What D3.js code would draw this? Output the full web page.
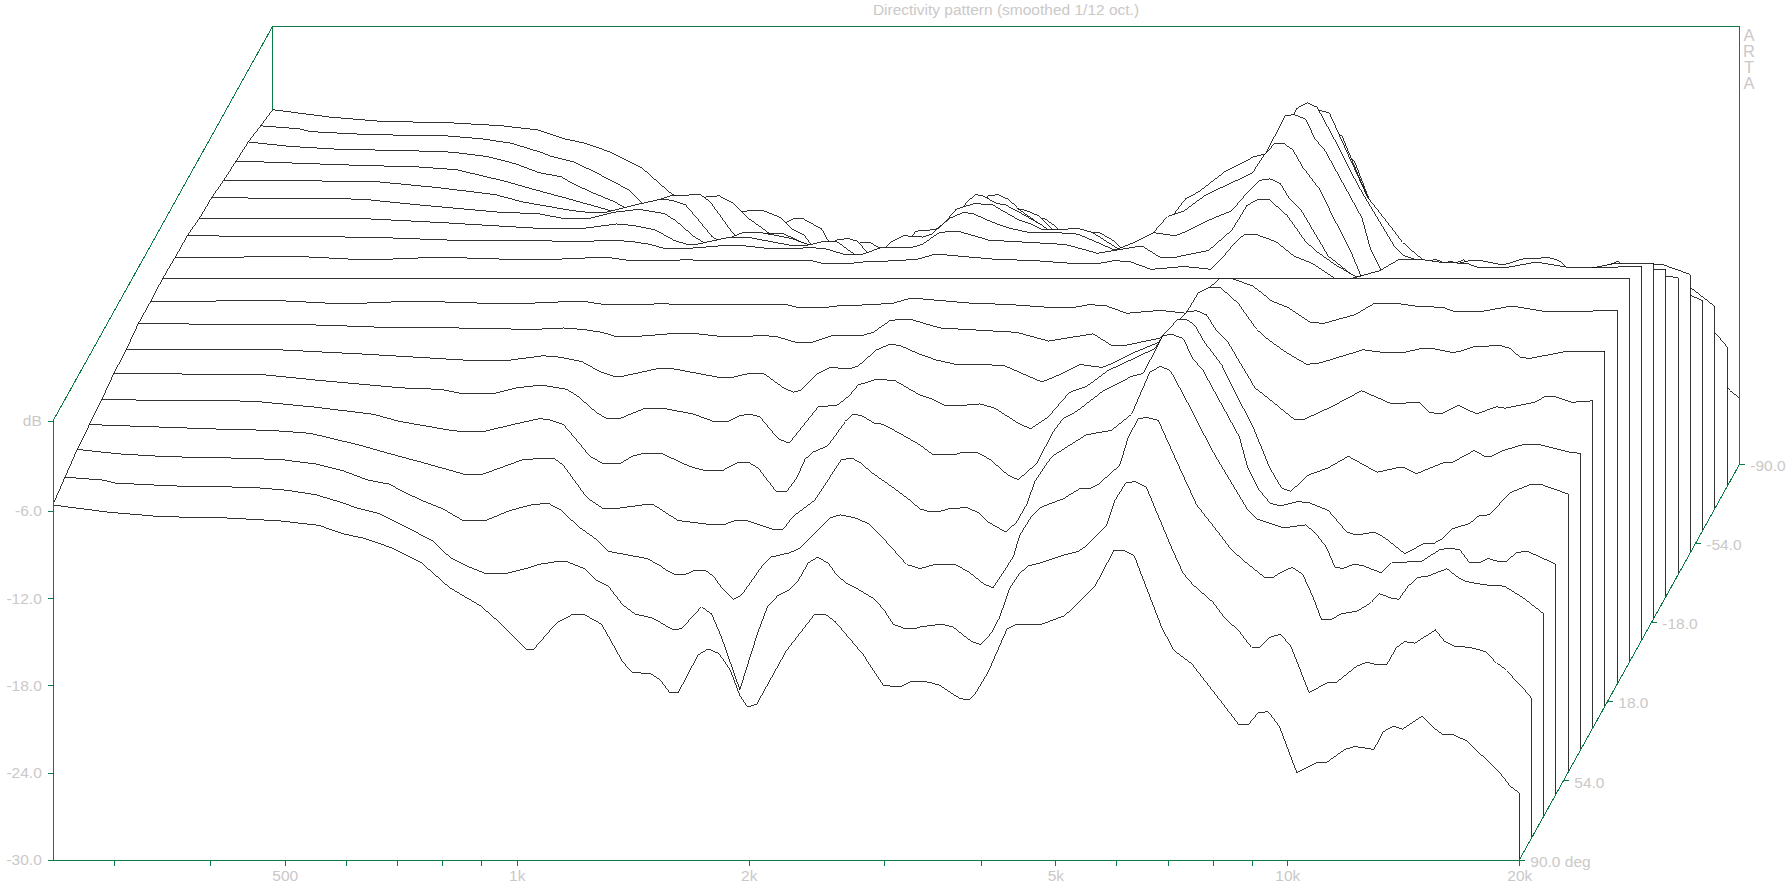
<!DOCTYPE html>
<html><head><meta charset="utf-8"><title>Directivity pattern</title>
<style>html,body{margin:0;padding:0;background:#fff}svg{display:block}
text{font-family:"Liberation Sans",Arial,sans-serif;fill:#cbc8c8;font-size:15.5px}
.axis path,.axis line,.gl{stroke:#0b7a45;stroke-width:1;fill:none;shape-rendering:crispEdges}
.curve{fill:none;stroke:#000;stroke-width:.8;shape-rendering:crispEdges;stroke-linejoin:miter}
.fill{fill:#fff;stroke:none}
</style>
<script src="https://cdn.jsdelivr.net/npm/d3@7"></script></head><body>
<svg id="c" width="1792" height="889"></svg>
<script>
const title="Directivity pattern (smoothed 1/12 oct.)";
const brand=["A","R","T","A"];
const fMin=250,fMax=20000;
const freqTicks=[300,400,500,600,700,800,900,1000,2000,3000,4000,5000,6000,7000,8000,9000,10000,20000];
const freqLabels={500:"500",1000:"1k",2000:"2k",5000:"5k",10000:"10k",20000:"20k"};
const dbTicks=[-6,-12,-18,-24,-30];
const angleTicks=[90,54,18,-18,-54,-90];
const angles=[90,80,70,60,50,40,30,20,10,0,-10,-20,-30,-40,-50,-60,-70,-80,-90];
// Each response: [octaves above 250 Hz, level in dB]. The pattern is symmetric: +a and -a share a curve.
const resp90=[[0,-5.6],[.242,-6.1],[.465,-6.4],[.762,-6.5],[.984,-6.7],[1.146,-7],[1.257,-7.6],[1.344,-7.9],[1.453,-8.5],[1.591,-9.6],[1.712,-11.3],[1.841,-12.5],[1.928,-13.7],[2.04,-15.5],[2.074,-15.5],[2.172,-13.7],[2.243,-13.1],[2.287,-13.1],[2.366,-13.8],[2.457,-16.4],[2.499,-17.1],[2.577,-17.2],[2.617,-17.6],[2.66,-18.5],[2.696,-18.5],[2.782,-15.9],[2.825,-15.5],[2.871,-15.8],[2.919,-16.9],[2.962,-18.7],[2.995,-19.5],[3.034,-19.3],[3.163,-15.6],[3.285,-13.1],[3.329,-13.1],[3.372,-13.6],[3.494,-15.9],[3.58,-18],[3.652,-18.1],[3.702,-17.7],[3.738,-17.7],[3.781,-17.8],[3.824,-18],[3.91,-18.9],[3.949,-19],[3.975,-18.6],[4.032,-17.1],[4.114,-14.1],[4.157,-13.8],[4.262,-13.8],[4.363,-13.2],[4.492,-11.2],[4.575,-8.7],[4.614,-8.7],[4.662,-9.1],[4.78,-14],[4.833,-15.6],[4.909,-16.5],[5.031,-19],[5.113,-20.7],[5.153,-20.7],[5.196,-19.9],[5.239,-19.8],[5.287,-20.8],[5.363,-24],[5.448,-23.3],[5.491,-23.3],[5.57,-22.4],[5.613,-22.2],[5.695,-22.4],[5.735,-21.2],[5.778,-20.8],[5.819,-21],[5.903,-20.1],[5.951,-20.9],[5.994,-21.4],[6.037,-21.4],[6.095,-21.8],[6.238,-24],[6.281,-24.9],[6.322,-25.4]];
const resp80=[[0,-5.2],[.165,-5.4],[.215,-5.6],[.462,-5.8],[.809,-5.9],[.957,-6.1],[1.081,-6.4],[1.204,-7],[1.254,-7.3],[1.353,-7.7],[1.444,-8.4],[1.587,-9.6],[1.659,-10.7],[1.731,-11.3],[1.81,-11.8],[1.904,-11.8],[1.983,-11.5],[2.04,-11.2],[2.119,-11],[2.162,-11],[2.241,-11.5],[2.292,-12.3],[2.342,-12.7],[2.406,-14],[2.457,-14.6],[2.536,-14.9],[2.622,-15.7],[2.658,-15.6],[2.744,-14.1],[2.787,-14.6],[2.83,-16.2],[2.909,-19.8],[2.988,-15.8],[3.031,-14],[3.067,-13.4],[3.117,-13],[3.161,-12.3],[3.204,-11.1],[3.244,-10.7],[3.29,-11.1],[3.326,-11.9],[3.369,-12.5],[3.419,-12.9],[3.491,-13.6],[3.534,-14.4],[3.57,-15.3],[3.62,-15.6],[3.664,-15.6],[3.685,-15.5],[3.728,-15.4],[3.778,-15.3],[3.829,-15.5],[3.908,-16.5],[3.947,-16.7],[3.994,-15.9],[4.03,-14.8],[4.07,-12.9],[4.116,-11.8],[4.152,-11.3],[4.202,-11.1],[4.317,-10.5],[4.367,-10.3],[4.404,-9.9],[4.49,-8.5],[4.526,-6.8],[4.572,-5.6],[4.612,-5.5],[4.662,-5.9],[4.698,-7.3],[4.777,-10.3],[4.82,-11.8],[4.863,-12.6],[4.949,-13.8],[5,-14.9],[5.057,-15.7],[5.115,-16.9],[5.151,-16.9],[5.194,-16.2],[5.24,-16],[5.284,-16.8],[5.363,-20],[5.445,-19.3],[5.481,-19.3],[5.567,-18.2],[5.613,-17.9],[5.654,-18.1],[5.697,-18.1],[5.74,-16.9],[5.775,-16.5],[5.819,-16.6],[5.908,-15.7],[5.948,-16.5],[5.987,-16.8],[6.056,-16.9],[6.127,-17.2],[6.171,-18],[6.214,-18.5],[6.286,-19.7],[6.322,-20.4]];
const resp70=[[0,-4.8],[.175,-5.1],[.385,-5.3],[.694,-5.4],[.88,-5.5],[1.028,-5.8],[1.152,-6.3],[1.251,-6.9],[1.35,-7.2],[1.391,-7.6],[1.485,-8.3],[1.578,-8.9],[1.664,-9.7],[1.758,-9.7],[1.865,-9],[1.959,-8.6],[2.03,-8.5],[2.088,-9],[2.16,-10.1],[2.239,-11],[2.289,-11.8],[2.455,-12.3],[2.504,-12.7],[2.541,-13.1],[2.577,-13.4],[2.62,-13.4],[2.663,-13.1],[2.706,-13.1],[2.742,-13.5],[2.778,-14.3],[2.828,-15.1],[2.864,-14.8],[2.9,-14],[2.953,-12.8],[2.99,-12.2],[3.072,-11.9],[3.115,-11.6],[3.245,-9.5],[3.288,-9.3],[3.352,-9.5],[3.41,-9.9],[3.474,-10.9],[3.575,-12.7],[3.632,-13],[3.697,-12.7],[3.783,-12.7],[3.841,-13.2],[3.913,-14.1],[3.948,-14.3],[4.035,-12.2],[4.063,-10.7],[4.114,-9.4],[4.15,-8.8],[4.25,-8.2],[4.322,-7.5],[4.365,-7.5],[4.401,-7.2],[4.494,-5.9],[4.53,-4],[4.573,-2.7],[4.61,-2.6],[4.66,-2.8],[4.739,-5.6],[4.825,-8.6],[4.904,-10.2],[4.976,-11.7],[5.033,-12.5],[5.119,-13.6],[5.154,-13.6],[5.195,-13.2],[5.238,-12.9],[5.283,-13.4],[5.326,-14.9],[5.364,-16.5],[5.403,-16.5],[5.45,-16.1],[5.521,-15.9],[5.579,-15.3],[5.612,-14.7],[5.66,-15],[5.698,-15.1],[5.737,-14.2],[5.78,-13.6],[5.823,-13.5],[5.905,-13],[5.953,-13.6],[5.989,-13.9],[6.06,-14.1],[6.153,-14.2],[6.233,-15],[6.322,-16.1]];
const resp60=[[0,-4.6],[.53,-4.9],[.778,-5],[.951,-5.2],[1.161,-6],[1.339,-6.8],[1.411,-7.1],[1.612,-8],[1.698,-8],[1.87,-7],[2,-6.9],[2.043,-7.4],[2.143,-9.6],[2.215,-10.4],[2.258,-10.4],[2.395,-10.1],[2.43,-10.1],[2.538,-11.2],[2.689,-11.5],[2.732,-11.5],[2.783,-11.2],[2.833,-11.2],[2.948,-11.8],[2.991,-11.8],[3.034,-10.9],[3.127,-9.8],[3.242,-7],[3.286,-6.9],[3.321,-7.2],[3.372,-7.9],[3.479,-9.1],[3.537,-9.8],[3.58,-10.4],[3.623,-10.6],[3.659,-10.6],[3.702,-10.4],[3.781,-10.3],[3.838,-10.7],[3.874,-11.3],[3.951,-12],[3.997,-11.3],[4.04,-10.1],[4.076,-8.5],[4.148,-6.8],[4.298,-5.3],[4.406,-5],[4.492,-3.9],[4.571,-1],[4.617,-.6],[4.66,-.9],[4.751,-3.6],[4.837,-6.3],[4.938,-9],[4.995,-10.5],[5.034,-11.1],[5.146,-11.7],[5.242,-11.5],[5.282,-12],[5.331,-13],[5.369,-14.4],[5.404,-14.5],[5.45,-14.2],[5.49,-14.3],[5.57,-14.8],[5.613,-14.1],[5.742,-14],[5.821,-13.2],[5.864,-13.1],[5.907,-13.2],[5.95,-14.1],[5.99,-14.1],[6.029,-13.8],[6.072,-14],[6.108,-14],[6.152,-13.4],[6.197,-13.3],[6.322,-14.2]];
const resp50=[[0,-4.4],[.651,-4.5],[.911,-4.9],[1.17,-5.4],[1.286,-5.9],[1.502,-6.5],[1.559,-6.6],[1.645,-6.6],[1.774,-6.1],[1.889,-5.7],[1.933,-5.8],[1.99,-6.1],[2.033,-6.9],[2.105,-8.3],[2.162,-8.8],[2.234,-8.8],[2.285,-8.3],[2.335,-8.1],[2.414,-8.1],[2.536,-9],[2.608,-9.3],[2.673,-9.3],[2.744,-8.7],[2.787,-8.7],[2.83,-9.1],[2.907,-10.7],[2.953,-10.7],[2.996,-9.8],[3.032,-8.5],[3.067,-8],[3.125,-7.6],[3.204,-5.9],[3.24,-5.4],[3.276,-5.5],[3.329,-6],[3.369,-6.1],[3.427,-6.6],[3.527,-7.5],[3.585,-8.2],[3.671,-8.2],[3.714,-8],[3.772,-8],[3.829,-8.5],[3.908,-9.6],[3.951,-9.9],[4.03,-8.8],[4.102,-6.6],[4.145,-5.7],[4.203,-5.2],[4.317,-3.8],[4.44,-2.8],[4.49,-2.6],[4.575,0],[4.612,.1],[4.662,-.2],[4.705,-1.6],[4.748,-2.4],[4.82,-4.5],[4.906,-7],[4.942,-9.1],[4.985,-10.5],[5.036,-11.5],[5.079,-11.7],[5.158,-11.4],[5.208,-11.5],[5.287,-12],[5.368,-13.5],[5.41,-13.7],[5.488,-13.5],[5.532,-13.9],[5.618,-15],[5.697,-14.3],[5.74,-14.3],[5.776,-14],[5.819,-13.3],[5.898,-12.9],[5.934,-12.4],[5.984,-12.3],[6.07,-10.8],[6.164,-10.2],[6.2,-10.2],[6.272,-10.6],[6.322,-10.9]];
const resp40=[[0,-4.1],[.647,-4.2],[.895,-4.6],[1.241,-5.1],[1.406,-5.2],[1.506,-5.5],[1.636,-5.5],[1.736,-5.1],[1.844,-4.9],[1.952,-5.2],[2.002,-5.7],[2.081,-6.8],[2.124,-7.2],[2.182,-7.2],[2.289,-6.5],[2.368,-6.5],[2.498,-6.9],[2.584,-7.4],[2.648,-7.4],[2.699,-7],[2.742,-6.9],[2.785,-7.1],[2.864,-8.6],[2.911,-8.9],[3.036,-6.4],[3.116,-6.3],[3.166,-5.7],[3.209,-4.9],[3.288,-4.5],[3.367,-4.6],[3.475,-5.6],[3.532,-5.9],[3.582,-6.3],[3.661,-6.3],[3.733,-6.2],[3.798,-6.5],[3.906,-7.6],[3.952,-7.9],[4.028,-7.1],[4.092,-5.9],[4.121,-5.4],[4.193,-5],[4.286,-3.9],[4.394,-3.1],[4.487,-2.4],[4.531,-1.3],[4.581,-.4],[4.624,-.4],[4.66,-.8],[4.703,-2],[4.775,-3.5],[4.84,-5.6],[4.911,-7.8],[4.983,-10.6],[5.034,-12],[5.074,-12.2],[5.148,-11.1],[5.234,-10.6],[5.321,-9.8],[5.446,-10.9],[5.529,-10.6],[5.565,-10.6],[5.615,-11],[5.737,-10.2],[5.773,-10.2],[5.864,-9.4],[5.91,-9.8],[5.939,-9.8],[5.989,-9.4],[6.075,-9],[6.147,-9],[6.269,-9.5],[6.322,-9.6]];
const resp30=[[0,-4],[.669,-4],[1.04,-4.3],[1.461,-4.7],[1.655,-4.7],[1.798,-4.4],[1.871,-4.5],[1.964,-4.8],[2.043,-5.5],[2.1,-5.8],[2.143,-5.8],[2.287,-5.3],[2.359,-5.3],[2.56,-5.9],[2.611,-5.9],[2.689,-5.6],[2.747,-5.6],[2.833,-6.6],[2.876,-6.9],[2.905,-6.8],[2.984,-5.6],[3.034,-5.2],[3.12,-5.3],[3.156,-5.1],[3.235,-4],[3.293,-3.6],[3.336,-3.7],[3.422,-4.3],[3.494,-4.7],[3.58,-5],[3.702,-5],[3.788,-5.1],[3.846,-5.5],[3.947,-6.2],[4.025,-5.7],[4.112,-5],[4.205,-5.2],[4.241,-5],[4.341,-4.2],[4.449,-3.5],[4.514,-2.3],[4.572,-1.4],[4.615,-1.3],[4.658,-1.6],[4.701,-2.7],[4.751,-3.5],[4.866,-6.6],[4.945,-7.6],[5.038,-8.8],[5.074,-8.8],[5.197,-7.9],[5.326,-6.8],[5.455,-7.7],[5.577,-7.6],[5.617,-8.3],[5.671,-8.4],[5.742,-7.8],[5.822,-8.4],[5.908,-7.9],[5.944,-8],[6.073,-7.6],[6.116,-7.2],[6.159,-7.2],[6.231,-7.6],[6.322,-7.5]];
const resp20=[[0,-3.7],[.79,-3.8],[1.128,-4],[1.373,-4],[1.703,-4.1],[1.832,-4],[1.918,-4.1],[1.998,-4.3],[2.062,-4.6],[2.134,-4.6],[2.292,-4.4],[2.407,-4.4],[2.522,-4.6],[2.623,-4.6],[2.68,-4.5],[2.752,-4.6],[2.838,-5],[2.903,-5],[2.996,-4.5],[3.125,-4.5],[3.168,-4.3],[3.24,-3.5],[3.283,-3.4],[3.326,-3.4],[3.37,-3.6],[3.456,-4],[3.786,-4.3],[3.923,-4.9],[4.116,-4.4],[4.196,-5.2],[4.253,-5.2],[4.404,-4.7],[4.504,-3.3],[4.569,-1.6],[4.619,-1.2],[4.663,-1.2],[4.741,-2.3],[4.821,-4.1],[4.871,-4.8],[4.95,-5.7],[5.036,-6.5],[5.094,-6.4],[5.28,-5.5],[5.374,-5.7],[5.453,-5.7],[5.532,-5.4],[5.575,-5.4],[5.668,-5.7],[5.697,-5.6],[5.754,-5.3],[5.869,-5.2],[5.913,-5.4],[5.956,-6],[5.998,-6.1],[6.157,-5.6],[6.322,-5.6]];
const resp10=[[0,-3.7],[.181,-3.7],[.415,-3.6],[.515,-3.6],[.762,-3.8],[.923,-3.8],[1.076,-3.7],[1.219,-3.7],[1.421,-3.8],[1.65,-3.8],[1.794,-3.7],[1.873,-3.7],[1.959,-3.9],[2.153,-3.9],[2.204,-3.8],[2.254,-3.9],[2.498,-3.9],[2.7,-3.9],[2.742,-3.9],[2.792,-4.1],[2.907,-4.1],[2.958,-4],[3.116,-3.9],[3.202,-3.8],[3.267,-3.5],[3.317,-3.5],[3.532,-3.8],[3.705,-3.9],[3.877,-4.1],[3.978,-4.1],[4.05,-3.9],[4.122,-4],[4.208,-4.5],[4.351,-4.3],[4.466,-4.5],[4.537,-3.3],[4.567,-2.7],[4.61,-2.1],[4.66,-2.1],[4.746,-2.6],[4.825,-3.6],[4.904,-4.1],[4.998,-5.1],[5.055,-5.2],[5.192,-4.6],[5.278,-3.8],[5.364,-3.8],[5.45,-4],[5.572,-4.1],[5.622,-4.4],[5.73,-4.4],[5.867,-4],[6.018,-4.4],[6.19,-4.4],[6.24,-4.3],[6.322,-4.3]];
const resp0=[[0,-3.6],[6.322,-3.6]];
const responses={90:resp90,80:resp80,70:resp70,60:resp60,50:resp50,40:resp40,30:resp30,20:resp20,10:resp10,0:resp0};

const svg=d3.select("#c");
const x=d3.scaleLog().domain([fMin,fMax]).range([52.8,1519.3]);
const y=d3.scaleLinear().domain([-30,0]).range([860,423.5]);
const depthX=d3.scaleLinear().domain([90,-90]).range([0,220]);
const depthY=d3.scaleLinear().domain([90,-90]).range([0,-395.3]);
const hz=o=>fMin*2**o;
const px=(a,f)=>x(f)+depthX(a), py=(a,db)=>y(db)+depthY(a);
const lvl0=y.domain()[0];

const startOf=a=>responses[Math.abs(a)][0];
// back walls
const topDb=0.15;
const gl=(x1,y1,x2,y2)=>svg.append("line").attr("class","gl").attr("x1",x1).attr("y1",y1).attr("x2",x2).attr("y2",y2);
gl(px(90,fMin),py(90,topDb),px(-90,fMin),py(-90,topDb));
gl(px(-90,fMin),py(-90,topDb),px(-90,fMax),py(-90,topDb));
gl(px(-90,fMin),py(-90,topDb),px(-90,fMin),py(-90,startOf(-90)[1]));

// curves, back to front, each hiding what is behind it
const line=d3.line();
[...angles].reverse().forEach(a=>{
  const r=responses[Math.abs(a)];
  const pts=r.map(d=>[px(a,Math.min(hz(d[0]),fMax)),py(a,d[1])]);
  const floorEnd=[px(a,fMax),py(a,lvl0)], floorStart=[px(a,fMin),py(a,lvl0)];
  svg.append("path").attr("class","fill").attr("d",line([...pts,floorEnd,floorStart])+"Z");
  svg.append("path").attr("class","curve").attr("d",line([...pts,floorEnd]));
});
// edge through the curve starts
svg.append("path").attr("class","curve").attr("d",line(angles.map(a=>[px(a,fMin),py(a,startOf(a)[1])])));

// axes
const xAxis=d3.axisBottom(x).tickValues(freqTicks).tickFormat(v=>freqLabels[v]||"").tickSize(6).tickSizeOuter(0).tickPadding(4);
svg.append("g").attr("class","axis").attr("transform","translate(0,860)").call(xAxis);
const yAxis=d3.axisLeft(y).tickValues(dbTicks).tickFormat(v=>v.toFixed(1)).tickSize(5).tickSizeOuter(0).tickPadding(6);
const yg=svg.append("g").attr("class","axis").attr("transform","translate(52.8,0)").call(yAxis);
yg.select(".domain").attr("d",`M0.5,${y(topDb)}V860.5`);
svg.selectAll(".axis text").attr("fill",null).style("font-size","15.5px");
yg.append("line").attr("x1",-5).attr("x2",0).attr("y1",y(topDb)).attr("y2",y(topDb));
yg.append("text").attr("x",-11).attr("y",y(topDb)).attr("dy","0.32em").attr("text-anchor","end").text("dB");

gl(px(-90,fMax),py(-90,topDb),px(-90,fMax),py(-90,lvl0));
gl(px(90,fMax),py(90,lvl0),px(-90,fMax),py(-90,lvl0));
angleTicks.forEach(a=>{
  const tx=px(a,fMax),ty=py(a,lvl0);
  gl(tx,ty,tx+6,ty);
  svg.append("text").attr("x",tx+11).attr("y",ty+1).attr("dy","0.36em").text(a===90?"90.0 deg":a.toFixed(1));
});

svg.append("text").attr("x",1006).attr("y",15).attr("text-anchor","middle").text(title);
brand.forEach((c,i)=>svg.append("text").attr("x",1749).attr("y",[41,57,73,89][i]).attr("text-anchor","middle").style("font-size","16.5px").text(c));
</script></body></html>
